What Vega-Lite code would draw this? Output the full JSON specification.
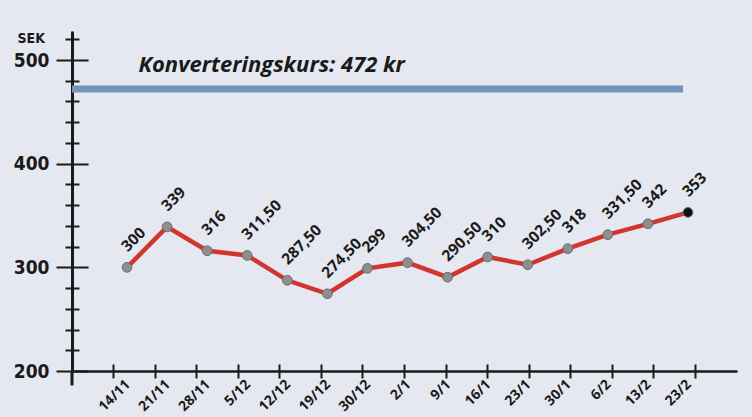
{
  "$schema": "https://vega.github.io/schema/vega-lite/v6.json",
  "width": 665,
  "height": 340,
  "autosize": "none",
  "padding": {"left": 72, "top": 31, "right": 15, "bottom": 46},
  "background": "#e5e8f0",
  "config": {"view": {"stroke": null}, "axis": {"grid": false}},
  "data": {
    "values": [
      {"date": "14/11", "value": 300, "label": "300"},
      {"date": "21/11", "value": 339, "label": "339"},
      {"date": "28/11", "value": 316, "label": "316"},
      {"date": "5/12", "value": 311.5, "label": "311,50"},
      {"date": "12/12", "value": 287.5, "label": "287,50"},
      {"date": "19/12", "value": 274.5, "label": "274,50"},
      {"date": "30/12", "value": 299, "label": "299"},
      {"date": "2/1", "value": 304.5, "label": "304,50"},
      {"date": "9/1", "value": 290.5, "label": "290,50"},
      {"date": "16/1", "value": 310, "label": "310"},
      {"date": "23/1", "value": 302.5, "label": "302,50"},
      {"date": "30/1", "value": 318, "label": "318"},
      {"date": "6/2", "value": 331.5, "label": "331,50"},
      {"date": "13/2", "value": 342, "label": "342"},
      {"date": "23/2", "value": 353, "label": "353"}
    ]
  },
  "resolve": {
    "scale": {"x": "independent"},
    "axis": {"x": "independent", "y": "independent"}
  },
  "layer": [
    {
      "data": {"values": [{}]},
      "mark": {"type": "rule", "color": "#7096bd", "strokeWidth": 7},
      "encoding": {
        "x": {
          "datum": "14/11", "type": "nominal", "bandPosition": -1,
          "scale": {"type": "band", "domain": ["14/11","21/11","28/11","5/12","12/12","19/12","30/12","2/1","9/1","16/1","23/1","30/1","6/2","13/2","23/2"], "paddingInner": 0, "paddingOuter": 0.5, "align": 1},
          "axis": {"orient": "bottom", "bandPosition": 0, "labels": false, "ticks": true, "tickSize": 7, "tickWidth": 2, "tickColor": "#1a1a1a", "domain": true, "domainWidth": 2.5, "domainColor": "#1a1a1a", "title": null}
        },
        "x2": {"datum": "13/2", "bandPosition": 0.7},
        "y": {
          "datum": 472, "type": "quantitative",
          "scale": {"domain": [200, 528], "nice": false, "zero": false},
          "axis": {"orient": "left", "values": [200, 300, 400, 500], "tickSize": 16, "tickWidth": 2, "tickColor": "#1a1a1a", "domainWidth": 3, "domainColor": "#1a1a1a", "labelFont": "DejaVu Sans Condensed, DejaVu Sans, sans-serif", "labelFontWeight": "bold", "labelFontSize": 19, "labelColor": "#1a1a1a", "labelPadding": 7, "title": "SEK", "titleAngle": 0, "titleFont": "DejaVu Sans Condensed, DejaVu Sans, sans-serif", "titleFontWeight": "bold", "titleFontSize": 14, "titleColor": "#1a1a1a", "titleAlign": "left", "titleBaseline": "alphabetic", "titleX": -55, "titleY": 11}
        }
      }
    },
    {
      "data": {"values": [{}]},
      "mark": {"type": "rule", "color": "#1a1a1a", "strokeWidth": 3},
      "encoding": {
        "x": {
          "datum": "14/11", "type": "nominal", "bandPosition": -1,
          "scale": {"type": "band", "domain": ["14/11","21/11","28/11","5/12","12/12","19/12","30/12","2/1","9/1","16/1","23/1","30/1","6/2","13/2","23/2"], "paddingInner": 0, "paddingOuter": 0.5, "align": 1},
          "axis": {"orient": "bottom", "bandPosition": 0, "labels": false, "domain": false, "tickSize": -7, "tickWidth": 2, "tickColor": "#1a1a1a", "title": null}
        },
        "y": {
          "datum": 200, "type": "quantitative",
          "scale": {"domain": [200, 528], "nice": false, "zero": false},
          "axis": {"orient": "left", "values": [200, 300, 400, 500], "labels": false, "domain": false, "tickSize": -16, "tickWidth": 2, "tickColor": "#1a1a1a", "title": null}
        },
        "y2": {"datum": 186}
      }
    },
    {
      "data": {"values": [{}]},
      "mark": {"type": "text", "text": "Konverteringskurs: 472 kr", "align": "left", "baseline": "alphabetic", "dy": -17, "font": "Open Sans", "fontStyle": "italic", "fontWeight": "bold", "fontSize": 22, "color": "#1a1a1a"},
      "encoding": {
        "x": {
          "datum": "14/11", "type": "nominal", "bandPosition": 0.6,
          "scale": {"type": "band", "domain": ["14/11","21/11","28/11","5/12","12/12","19/12","30/12","2/1","9/1","16/1","23/1","30/1","6/2","13/2","23/2"], "paddingInner": 0, "paddingOuter": 0.5, "align": 1},
          "axis": null
        },
        "y": {
          "datum": 472, "type": "quantitative",
          "scale": {"domain": [200, 528], "nice": false, "zero": false},
          "axis": {"orient": "left", "values": [220, 240, 260, 280, 320, 340, 360, 380, 420, 440, 460, 480, 520], "labels": false, "domain": false, "tickSize": 7, "tickWidth": 2, "tickColor": "#1a1a1a", "title": null}
        }
      }
    },
    {
      "mark": {"type": "line", "color": "#d2352e", "strokeWidth": 4.5},
      "encoding": {
        "x": {
          "field": "date", "type": "nominal", "sort": null, "bandPosition": 0.5,
          "scale": {"type": "band", "paddingInner": 0, "paddingOuter": 0.7985, "align": 0.547},
          "axis": {"orient": "bottom", "domain": false, "ticks": false, "tickSize": 0, "labelAngle": -45, "labelAlign": "right", "labelBaseline": "middle", "labelFont": "Open Sans", "labelFontWeight": "bold", "labelFontSize": 14, "labelColor": "#1a1a1a", "labelPadding": 11, "labelOffset": 1, "labelOverlap": false, "labelBound": false, "title": null}
        },
        "y": {
          "field": "value", "type": "quantitative",
          "scale": {"domain": [200, 528], "nice": false, "zero": false},
          "axis": {"orient": "left", "values": [220, 240, 260, 280, 320, 340, 360, 380, 420, 440, 460, 480, 520], "labels": false, "domain": false, "tickSize": -7, "tickWidth": 2, "tickColor": "#1a1a1a", "title": null}
        }
      }
    },
    {
      "mark": {"type": "point", "filled": true, "size": 95, "opacity": 1, "stroke": "#6c6c6c", "strokeWidth": 1},
      "encoding": {
        "x": {"field": "date", "type": "nominal", "sort": null, "bandPosition": 0.5, "scale": {"type": "band", "paddingInner": 0, "paddingOuter": 0.7985, "align": 0.547}, "axis": null},
        "y": {"field": "value", "type": "quantitative", "scale": {"domain": [200, 528], "nice": false, "zero": false}, "axis": null},
        "fill": {"condition": {"test": "datum.date === '23/2'", "value": "#111111"}, "value": "#8e8e8e"}
      }
    },
    {
      "mark": {"type": "text", "angle": 315, "align": "left", "baseline": "middle", "dx": 11, "dy": -15, "font": "Open Sans", "fontWeight": "bold", "fontSize": 15.5, "color": "#1a1a1a"},
      "encoding": {
        "x": {"field": "date", "type": "nominal", "sort": null, "bandPosition": 0.5, "scale": {"type": "band", "paddingInner": 0, "paddingOuter": 0.7985, "align": 0.547}, "axis": null},
        "y": {"field": "value", "type": "quantitative", "scale": {"domain": [200, 528], "nice": false, "zero": false}, "axis": null},
        "text": {"field": "label"}
      }
    }
  ]
}
